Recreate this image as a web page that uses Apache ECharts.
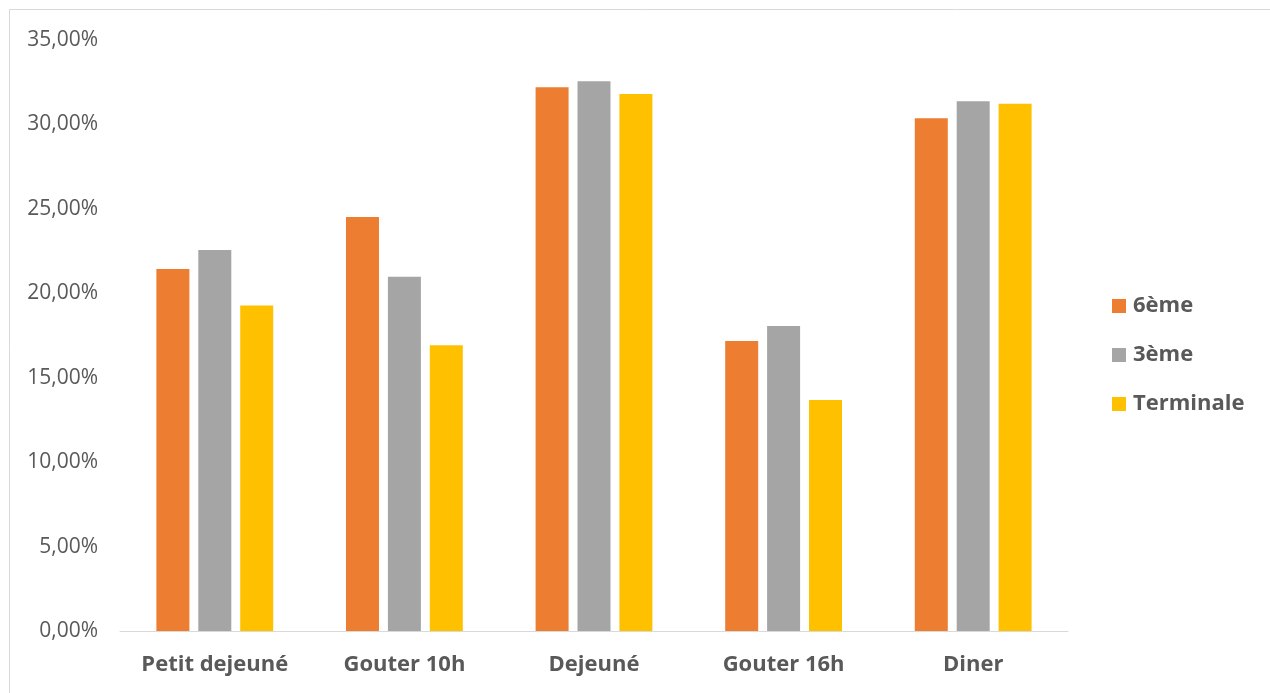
<!DOCTYPE html>
<html>
<head>
<meta charset="utf-8">
<script src="https://cdn.jsdelivr.net/npm/echarts@6/dist/echarts.min.js"></script>
<style>
  html, body { margin: 0; padding: 0; background: #fff; }
  #chart { width: 1270px; height: 693px; }
</style>
</head>
<body>
<div id="chart"></div>
<script>
// Meal categories and share of pupils (%) per school level
const categories = ['Petit dejeuné', 'Gouter 10h', 'Dejeuné', 'Gouter 16h', 'Diner'];
const sixieme   = [21.44, 24.52, 32.20, 17.17, 30.36];
const troisieme = [22.56, 20.98, 32.55, 18.06, 31.37];
const terminale = [19.27, 16.92, 31.80, 13.68, 31.23];
const seriesNames = ['6ème', '3ème', 'Terminale'];
const colors = ['#ED7D31', '#A5A5A5', '#FFC000'];

const FONT = '"Open Sans", "Liberation Sans", sans-serif';
const fmtPct = v => v.toFixed(2).replace('.', ',') + '%';

const chart = echarts.init(document.getElementById('chart'));
const seriesData = [sixieme, troisieme, terminale];

chart.setOption({
  animation: false,
  backgroundColor: '#ffffff',
  graphic: [{
    type: 'rect',
    shape: { x: 9.5, y: 9.5, width: 1300, height: 720 },
    style: { fill: 'none', stroke: '#D9D9D9', lineWidth: 1 },
    silent: true
  }],
  grid: { left: 120, right: 202, top: 40, bottom: 62 },
  legend: {
    orient: 'vertical',
    left: 1107,
    top: 290,
    itemWidth: 14,
    itemHeight: 14,
    itemGap: 27,
    icon: 'rect',
    data: seriesNames,
    textStyle: { fontFamily: FONT, fontSize: 22, fontWeight: 'bold', color: '#595959', padding: [0, 0, 0, 2] }
  },
  xAxis: {
    type: 'category',
    data: categories,
    axisLine: { show: true, lineStyle: { color: '#D9D9D9', width: 1 } },
    axisTick: { show: false },
    axisLabel: { interval: 0, fontFamily: FONT, fontSize: 22, fontWeight: 'bold', color: '#595959', margin: 23 }
  },
  yAxis: {
    type: 'value',
    min: 0,
    max: 35,
    interval: 5,
    axisLine: { show: false },
    axisTick: { show: false },
    splitLine: { show: false },
    axisLabel: { fontFamily: FONT, fontSize: 21, color: '#595959', margin: 22, formatter: fmtPct }
  },
  series: seriesNames.map((name, i) => ({
    name: name,
    type: 'bar',
    data: seriesData[i],
    barWidth: 33,
    barGap: '27%',
    itemStyle: { color: colors[i] }
  }))
});
</script>
</body>
</html>
